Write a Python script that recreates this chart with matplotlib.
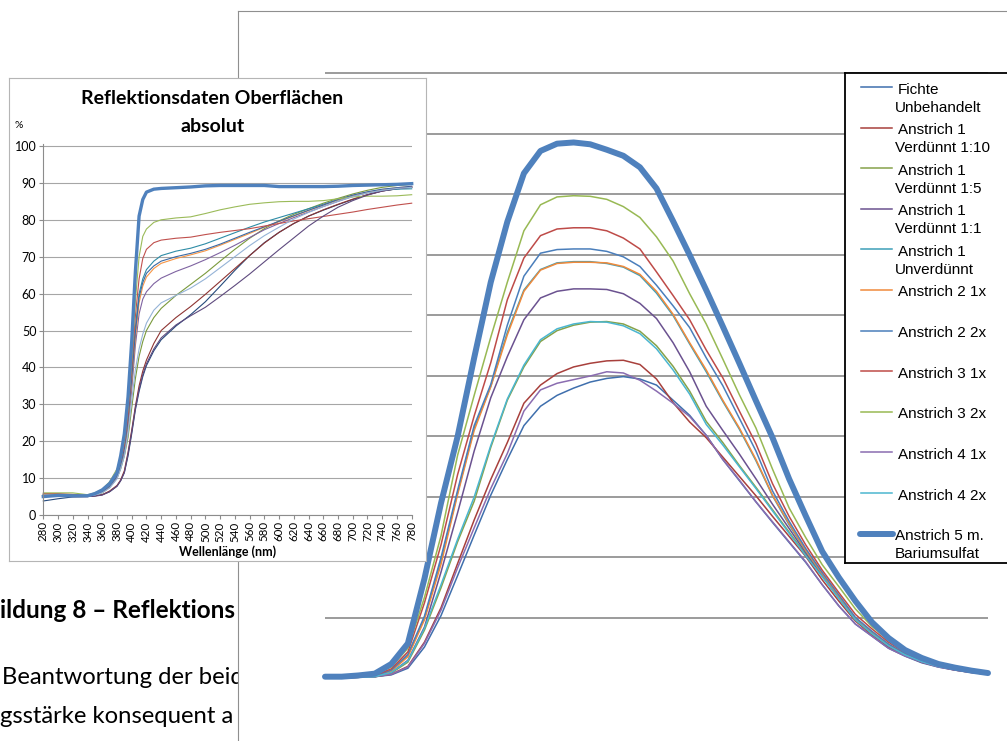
import matplotlib
matplotlib.use("Agg")
import matplotlib.pyplot as plt
from matplotlib.transforms import Affine2D

W, H = 1007, 741

# ---- kleines Diagramm: Reflektionsdaten absolut (%) ----
wl_abs = [280, 300, 320, 340, 350, 360, 370, 380, 385, 390, 395, 400, 405, 410, 415,
          420, 430, 440, 460, 480, 500, 520, 540, 560, 580, 600, 620, 640, 660, 680,
          700, 720, 740, 760, 780]

abs_fichte = [3.8, 4.4, 4.9, 5.0, 5.2, 5.5, 6.3, 7.8, 9.3, 11.5, 16, 22, 28.5, 33.5, 37.5,
              40.5, 44.5, 47.5, 51.2, 54.3, 57.8, 62, 66.3, 70.3, 73.8, 76.6, 79, 81, 82.6, 84.1,
              85.5, 86.8, 87.8, 88.4, 88.8]
abs_a1_10 = [5.3, 5.2, 5.0, 5.0, 5.2, 5.5, 6.5, 8, 9.5, 12, 17, 23, 29.5, 35, 39,
             42, 46.5, 50, 53.5, 56.5, 59.8, 63.3, 66.8, 70.3, 73.7, 76.6, 79, 81, 82.7, 84.2,
             85.6, 86.8, 87.8, 88.4, 88.8]
abs_a1_5 = [5.6, 5.6, 5.4, 5.2, 5.5, 6, 7.5, 10, 12.5, 16, 21, 29, 37, 43, 47,
            50, 53.5, 56, 59.5, 62.5, 65.5, 68.8, 72, 75, 77.6, 79.7, 81.5, 83, 84.5, 85.8,
            87, 88, 88.8, 89.3, 89.6]
abs_a1_1 = [5.5, 5.4, 5.2, 5.1, 5.4, 6.2, 7.5, 10, 13, 17, 24, 34, 46, 54.5, 58.5,
            60.5, 62.7, 64.2, 66, 67.5, 69.2, 71.1, 73.1, 75.2, 77.3, 79, 80.6, 82.1, 83.6, 85,
            86.3, 87.3, 88, 88.5, 88.8]
abs_a1_unv = [5.4, 5.4, 5.2, 5.1, 5.5, 6.5, 8, 11, 14, 18.5, 26, 38, 51, 60, 64,
              66.5, 68.8, 70.3, 71.5, 72.3, 73.5, 75, 76.5, 78, 79.4, 80.6, 81.8, 83, 84.2, 85.4,
              86.5, 87.4, 88, 88.3, 88.4]
abs_a2_1x = [5.5, 5.5, 5.3, 5.2, 5.5, 6.3, 7.8, 10.5, 13.5, 18, 25, 36, 48, 57.5, 62,
             64.5, 66.8, 68.2, 69.5, 70.5, 71.6, 73.1, 74.7, 76.3, 78, 79.5, 81, 82.5, 84, 85.4,
             86.6, 87.5, 88.2, 88.7, 89]
abs_a2_2x = [5.3, 5.3, 5.2, 5.1, 5.4, 6.3, 7.8, 10.5, 13.5, 18, 25.5, 37, 49.5, 59, 63,
             65.5, 67.5, 68.8, 70, 70.9, 72, 73.4, 75, 76.6, 78.1, 79.6, 81.1, 82.6, 84, 85.5,
             86.7, 87.6, 88.3, 88.7, 89.1]
abs_a3_1x = [5.8, 5.8, 5.6, 5.4, 5.8, 6.8, 8.5, 11.5, 14.5, 19, 27, 40, 54, 64, 69.5,
             72, 73.8, 74.5, 75, 75.3, 76, 76.6, 77.1, 77.6, 78.3, 79, 79.7, 80.3, 80.9, 81.5,
             82.1, 82.8, 83.4, 84, 84.5]
abs_a3_2x = [6, 6, 6, 5.5, 6, 7, 9, 12.5, 15, 20, 29, 42, 58, 70, 75.5,
             77.5, 79.3, 80, 80.5, 80.8, 81.7, 82.7, 83.5, 84.2, 84.6, 84.9, 85, 85, 85.2, 85.7,
             86.2, 86.4, 86.4, 86.5, 86.8]
abs_a4_1x = [5.2, 5.1, 5.0, 5.0, 5.1, 5.4, 6.3, 7.8, 9.3, 11.5, 16.5, 22.5, 29, 34, 38,
             41, 45, 48, 51.5, 54, 56.3, 59.2, 62.2, 65.3, 68.6, 71.9, 75.1, 78.3, 81, 83.4,
             85.2, 86.7, 87.8, 88.5, 88.9]
abs_a4_2x = [5.4, 5.4, 5.2, 5.1, 5.4, 6, 7.3, 9.8, 12.5, 16, 22, 31, 39.5, 45, 49,
             52, 55.5, 57.5, 59.5, 61.5, 64, 67, 70, 73, 75.7, 78, 80.2, 82, 83.6, 85,
             86.3, 87.3, 88, 88.5, 88.8]
abs_a5 = [5.0, 5.3, 5.2, 5.2, 5.8, 6.8, 8.5, 11.5, 16, 22, 32, 47, 66, 81, 85.5,
          87.5, 88.3, 88.5, 88.7, 88.9, 89.2, 89.3, 89.3, 89.3, 89.3, 89, 89, 89, 89, 89.1,
          89.3, 89.4, 89.5, 89.6, 89.8]

# ---- grosses Diagramm: gewichtete Kurven ----
wl_w = list(range(380, 781, 10))

w_fichte = [0.01, 0.01, 0.02, 0.03, 0.06, 0.17, 0.52, 1.04, 1.7, 2.37, 3.03, 3.62, 4.18, 4.5,
            4.68, 4.8, 4.9, 4.96, 4.99, 4.95, 4.85, 4.6, 4.35, 4.02, 3.62, 3.27, 2.92, 2.58,
            2.25, 1.92, 1.55, 1.2, 0.9, 0.7, 0.5, 0.37, 0.26, 0.19, 0.14, 0.1, 0.07]
w_a1_10 = [0.01, 0.01, 0.02, 0.03, 0.07, 0.2, 0.6, 1.17, 1.9, 2.62, 3.29, 3.9, 4.55, 4.85,
           5.04, 5.15, 5.21, 5.25, 5.26, 5.19, 4.95, 4.56, 4.24, 3.98, 3.66, 3.34, 3.02, 2.68,
           2.35, 2.02, 1.63, 1.28, 0.95, 0.72, 0.52, 0.38, 0.27, 0.2, 0.14, 0.1, 0.07]
w_a1_5 = [0.01, 0.015, 0.02, 0.03, 0.09, 0.27, 0.8, 1.5, 2.26, 2.93, 3.82, 4.6, 5.15, 5.57,
          5.75, 5.84, 5.89, 5.9, 5.86, 5.74, 5.5, 5.16, 4.75, 4.25, 3.9, 3.52, 3.16, 2.79,
          2.42, 2.05, 1.7, 1.33, 0.97, 0.74, 0.54, 0.39, 0.28, 0.2, 0.15, 0.11, 0.08]
w_a1_1 = [0.01, 0.015, 0.02, 0.03, 0.1, 0.3, 0.85, 1.76, 2.74, 3.76, 4.64, 5.32, 5.93, 6.29,
          6.4, 6.44, 6.44, 6.43, 6.36, 6.2, 5.95, 5.55, 5.07, 4.5, 4.1, 3.71, 3.3, 2.88,
          2.48, 2.08, 1.7, 1.33, 0.98, 0.75, 0.54, 0.39, 0.28, 0.2, 0.15, 0.11, 0.08]
w_a1_unv = [0.01, 0.02, 0.03, 0.04, 0.13, 0.38, 1.0, 1.95, 3.07, 4.14, 4.83, 5.72, 6.42, 6.76,
            6.87, 6.89, 6.89, 6.86, 6.8, 6.66, 6.37, 6.0, 5.53, 5.07, 4.58, 4.12, 3.6, 3.02,
            2.54, 2.11, 1.72, 1.35, 0.99, 0.76, 0.55, 0.4, 0.28, 0.21, 0.15, 0.11, 0.08]
w_a2_1x = [0.01, 0.02, 0.03, 0.04, 0.12, 0.36, 0.97, 1.89, 3.04, 4.1, 4.82, 5.68, 6.4, 6.75,
           6.86, 6.88, 6.88, 6.87, 6.81, 6.68, 6.4, 6.02, 5.55, 5.1, 4.6, 4.14, 3.62, 3.03,
           2.56, 2.12, 1.73, 1.36, 0.99, 0.77, 0.56, 0.4, 0.29, 0.21, 0.15, 0.11, 0.08]
w_a2_2x = [0.01, 0.02, 0.025, 0.035, 0.14, 0.4, 1.03, 2.0, 3.11, 4.18, 4.86, 5.84, 6.65, 7.03,
           7.09, 7.1, 7.1, 7.06, 6.97, 6.81, 6.5, 6.16, 5.8, 5.3, 4.84, 4.3, 3.76, 3.1,
           2.6, 2.15, 1.75, 1.38, 1.01, 0.78, 0.57, 0.41, 0.29, 0.21, 0.15, 0.11, 0.08]
w_a3_1x = [0.02, 0.02, 0.03, 0.05, 0.16, 0.44, 1.25, 2.21, 3.37, 4.34, 5.22, 6.26, 6.95, 7.32,
           7.43, 7.45, 7.45, 7.4, 7.28, 7.1, 6.72, 6.33, 5.93, 5.43, 4.97, 4.42, 3.88, 3.22,
           2.68, 2.21, 1.79, 1.42, 1.06, 0.82, 0.6, 0.43, 0.31, 0.22, 0.16, 0.12, 0.08]
w_a3_2x = [0.02, 0.02, 0.04, 0.07, 0.19, 0.5, 1.34, 2.36, 3.69, 4.68, 5.64, 6.55, 7.4, 7.83,
           7.96, 7.98, 7.97, 7.92, 7.8, 7.62, 7.3, 6.9, 6.36, 5.86, 5.28, 4.69, 4.14, 3.46,
           2.82, 2.33, 1.88, 1.52, 1.15, 0.86, 0.63, 0.45, 0.32, 0.23, 0.17, 0.12, 0.09]
w_a4_1x = [0.01, 0.01, 0.02, 0.03, 0.07, 0.19, 0.58, 1.13, 1.83, 2.49, 3.14, 3.72, 4.42, 4.77,
           4.88, 4.94, 5.0, 5.07, 5.05, 4.93, 4.75, 4.55, 4.33, 4.02, 3.62, 3.28, 2.92, 2.59,
           2.26, 1.93, 1.55, 1.2, 0.9, 0.7, 0.5, 0.37, 0.27, 0.19, 0.14, 0.1, 0.07]
w_a4_2x = [0.01, 0.015, 0.02, 0.03, 0.1, 0.29, 0.83, 1.55, 2.3, 3.0, 3.85, 4.62, 5.18, 5.6,
           5.78, 5.86, 5.9, 5.89, 5.83, 5.7, 5.45, 5.1, 4.7, 4.2, 3.86, 3.5, 3.14, 2.77,
           2.4, 2.03, 1.68, 1.32, 0.97, 0.74, 0.54, 0.39, 0.28, 0.2, 0.15, 0.11, 0.08]
w_a5 = [0.03, 0.03, 0.05, 0.08, 0.24, 0.58, 1.65, 2.9, 4.0, 5.3, 6.55, 7.55, 8.35, 8.72,
        8.84, 8.86, 8.83, 8.74, 8.64, 8.45, 8.1, 7.56, 7.0, 6.42, 5.82, 5.21, 4.59, 3.98,
        3.3, 2.69, 2.1, 1.67, 1.28, 0.93, 0.67, 0.47, 0.34, 0.24, 0.18, 0.13, 0.09]

labels = [("Fichte", "Unbehandelt"), ("Anstrich 1", "Verdünnt 1:10"),
          ("Anstrich 1", "Verdünnt 1:5"), ("Anstrich 1", "Verdünnt 1:1"),
          ("Anstrich 1", "Unverdünnt"), ("Anstrich 2 1x", None), ("Anstrich 2 2x", None),
          ("Anstrich 3 1x", None), ("Anstrich 3 2x", None), ("Anstrich 4 1x", None),
          ("Anstrich 4 2x", None), ("Anstrich 5 m.", "Bariumsulfat")]
abs_series = [abs_fichte, abs_a1_10, abs_a1_5, abs_a1_1, abs_a1_unv, abs_a2_1x, abs_a2_2x,
              abs_a3_1x, abs_a3_2x, abs_a4_1x, abs_a4_2x, abs_a5]
w_series = [w_fichte, w_a1_10, w_a1_5, w_a1_1, w_a1_unv, w_a2_1x, w_a2_2x,
            w_a3_1x, w_a3_2x, w_a4_1x, w_a4_2x, w_a5]
col_small = ['#254a7c', '#8e3432', '#7a9a3c', '#7f63a1', '#2e8ca6', '#f79646', '#3a6aa5',
             '#c0504d', '#9bbb59', '#5e4a7e', '#95b3d7', '#4f81bd']
col_big = ['#3f6fad', '#a8403c', '#86a24a', '#6b5290', '#3d9fb8', '#f08a3c', '#4a7ebb',
           '#be4b48', '#98b954', '#8a6cb0', '#4bb6d0', '#4f81bd']

fig = plt.figure(figsize=(W / 100, H / 100), dpi=100)
px = Affine2D().scale(1 / W, -1 / H).translate(0, 1) + fig.transFigure


def box(x0, y0, x1, y1, z):
    return fig.add_axes([x0 / W, 1 - y1 / H, (x1 - x0) / W, (y1 - y0) / H], zorder=z)


def bare(a):
    a.set_xticks([])
    a.set_yticks([])


# Dokumenttext im Hintergrund
doc = box(0, 0, W, H, 0)
doc.axis('off')
doc.text(0, 618, "ildung 8 – Reflektions", transform=px, family='Lato', fontweight='bold',
         fontsize=17.5)
doc.text(2, 684, "Beantwortung der beid", transform=px, family='Lato', fontsize=17.2)
doc.text(0, 723, "gsstärke konsequent a", transform=px, family='Lato', fontsize=17.2)

# Rahmen des grossen Diagramms
frame = box(238, 11, 1015, 750, 1)
bare(frame)
for s in frame.spines.values():
    s.set_color('#8f8f8f')
    s.set_linewidth(0.8)

# grosses Diagramm
y0_big = 678.5 - 10.1 * 60.5
y1_big = 678.5 + 0.1 * 60.5
ax = box(325, y0_big, 988, y1_big, 2)
ax.patch.set_alpha(0)
ax.set_xlim(380, 780)
ax.set_ylim(-0.1, 10.1)
ax.set_xticks([])
ax.set_yticks(range(1, 11))
ax.tick_params(length=0, labelleft=False)
ax.grid(axis='y', color='#9b9b9b', linewidth=1.4)
for s in ax.spines.values():
    s.set_visible(False)
for i, vals in enumerate(w_series):
    lw = 4.3 if i == 11 else 1.1
    ax.plot(wl_w, vals, color=col_big[i], lw=lw, clip_on=False,
            solid_capstyle='round', solid_joinstyle='round')

# Legende
leg = box(845, 73, 1015, 563, 3)
bare(leg)
leg.set_xlim(845, 1015)
leg.set_ylim(563, 73)
for s in leg.spines.values():
    s.set_color('black')
    s.set_linewidth(1.3)
for i, (l1, l2) in enumerate(labels):
    y = 87 + 40.6 * i
    if i == 11:
        leg.plot([860, 893], [y, y], color=col_big[i], lw=4.3, solid_capstyle='round')
        x1 = x2 = 895
    else:
        leg.plot([861, 892], [y, y], color=col_big[i], lw=1.1)
        x1, x2 = 898, 895
    leg.text(x1, y + 2.5, l1, family='Liberation Sans', fontsize=11, va='center')
    if l2:
        leg.text(x2, y + 20.5, l2, family='Liberation Sans', fontsize=11, va='center')

# kleines Diagramm
sb = box(9, 78, 426, 561, 3)
bare(sb)
for s in sb.spines.values():
    s.set_color('#b5b5b5')
    s.set_linewidth(0.8)
sb.text(212.5, 99, "Reflektionsdaten Oberflächen", transform=px, family='Lato',
        fontweight='bold', fontsize=14, ha='center', va='center')
sb.text(212.5, 126, "absolut", transform=px, family='Lato', fontweight='bold',
        fontsize=14, ha='center', va='center')
sb.text(19, 126, "%", transform=px, family='Lato', fontsize=7.5, ha='center', va='center')
sb.text(228, 552, "Wellenlänge (nm)", transform=px, family='Lato', fontweight='bold',
        fontsize=9, ha='center', va='center')

sp = box(43.3, 146 - 0.5 * 3.69, 411.7, 515, 4)
sp.patch.set_alpha(0)
sp.set_xlim(280, 780)
sp.set_ylim(0, 100.5)
sp.set_yticks(range(0, 101, 10))
sp.set_xticks(range(280, 781, 20))
sp.tick_params(axis='y', direction='out', length=3, width=0.8, color='#8c8c8c', pad=2,
               labelsize=9)
sp.tick_params(axis='x', direction='out', length=3, width=0.8, color='#8c8c8c', pad=1.5,
               labelsize=8.3, labelrotation=90)
for lab in sp.get_xticklabels() + sp.get_yticklabels():
    lab.set_family('Lato')
sp.grid(axis='y', color='#a6a6a6', linewidth=0.8)
sp.set_axisbelow(True)
for k in ('top', 'right'):
    sp.spines[k].set_visible(False)
for k in ('left', 'bottom'):
    sp.spines[k].set_color('#8c8c8c')
    sp.spines[k].set_linewidth(0.8)
for i, vals in enumerate(abs_series):
    lw = 2.4 if i == 11 else 0.8
    sp.plot(wl_abs, vals, color=col_small[i], lw=lw, clip_on=False)

fig.savefig("out.png", dpi=100)
